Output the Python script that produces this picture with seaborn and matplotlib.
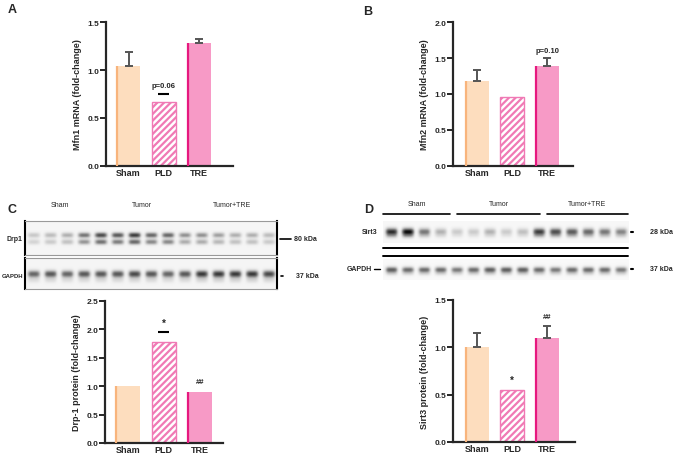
import numpy as np
import pandas as pd
import seaborn as sns
import matplotlib.pyplot as plt

# bar chart data
groups = ["Sham", "PLD", "TRE"]
mfn1_mean = [1.04, 0.67, 1.28]
mfn1_err = [0.15, 0.0, 0.04]
mfn2_mean = [1.18, 0.96, 1.39]
mfn2_err = [0.15, 0.0, 0.11]
drp1_mean = [1.0, 1.77, 0.9]
drp1_err = [0.0, 0.0, 0.0]
sirt3_mean = [1.0, 0.55, 1.1]
sirt3_err = [0.15, 0.0, 0.13]

# blot band intensities per lane (15 lanes: 5 per group)
blot_groups = ["Sham", "Tumor", "Tumor+TRE"]
drp1_lanes = [0.25, 0.3, 0.35, 0.55, 0.7, 0.65, 0.75, 0.6, 0.6, 0.45, 0.45, 0.4, 0.35, 0.35, 0.3]
c_load_lanes = [0.6, 0.65, 0.6, 0.65, 0.65, 0.65, 0.7, 0.65, 0.6, 0.65, 0.75, 0.75, 0.75, 0.75, 0.7]
sirt3_lanes = [0.8, 0.9, 0.55, 0.35, 0.25, 0.25, 0.35, 0.25, 0.3, 0.75, 0.7, 0.65, 0.6, 0.55, 0.5]
d_load_lanes = [0.65, 0.6, 0.6, 0.6, 0.55, 0.6, 0.65, 0.65, 0.65, 0.6, 0.55, 0.6, 0.6, 0.6, 0.55]

sns.set_style("ticks")
plt.rcParams['font.family'] = ['Liberation Sans', 'DejaVu Sans']
plt.rcParams['hatch.linewidth'] = 1.6

W, H = 675, 456
fig = plt.figure(figsize=(6.75, 4.56), dpi=100)


def px_axes(x0, y0, x1, y1):
    return fig.add_axes([x0 / W, 1 - y1 / H, (x1 - x0) / W, (y1 - y0) / H])


fills = ["#FDDDBE", "white", "#F79AC6"]
edges = ["#F8B47C", "#F07AB5", "#E6197F"]


def bar_panel(ax, mean, err, ymax, ylabel, xlim):
    df = pd.DataFrame({"group": groups, "value": mean})
    sns.barplot(data=df, x="group", y="value", hue="group", palette=fills,
                saturation=1, legend=False, width=0.68, ax=ax, errorbar=None)
    for i, p in enumerate(ax.patches):
        p.set_edgecolor(fills[i] if i != 1 else edges[i])
        p.set_linewidth(0 if i != 1 else 1.0)
        if i == 1:
            p.set_hatch("/////")
        else:
            ax.vlines(p.get_x() + 0.02, 0, p.get_height(), color=edges[i], lw=1.6, zorder=3)
    for i, (m, e) in enumerate(zip(mean, err)):
        if e > 0:
            ax.errorbar(i, m, yerr=[[0], [e]], fmt="none", ecolor="#555555",
                        elinewidth=1.4, capsize=3, capthick=1.4, zorder=1)
    ax.set_ylim(0, ymax)
    ax.set_xlim(*xlim)
    ticks = np.arange(0, ymax + 0.01, 0.5)
    ax.set_yticks(ticks)
    ax.set_yticklabels([f"{v:.1f}" for v in ticks], fontsize=6, fontweight="bold")
    ax.set_xticks(range(3))
    ax.set_xticklabels(groups, fontsize=6.5, fontweight="bold")
    ax.set_xlabel("")
    ax.set_ylabel(ylabel, fontsize=6.5, fontweight="bold", labelpad=4)
    ax.tick_params(axis="x", length=0, pad=1.5)
    ax.tick_params(axis="y", length=4, width=1.4, pad=1)
    sns.despine(ax=ax)
    for s in ["left", "bottom"]:
        ax.spines[s].set_linewidth(1.6)


def blot(ax, lanes, doublet=False, bg=0.06, sig=3.5):
    n = len(lanes)
    cols = n * 20
    rows = 30
    xx = np.arange(cols)
    yy = np.arange(rows)[:, None]
    img = np.zeros((rows, cols))
    for i, v in enumerate(lanes):
        cx = i * 20 + 10
        prof_x = np.exp(-((xx - cx) / 7.5) ** 4)
        if doublet:
            prof_y = np.exp(-((yy - 12) / 2.4) ** 2) + 0.8 * np.exp(-((yy - 18) / 2.4) ** 2)
        else:
            prof_y = np.exp(-((yy - 15) / sig) ** 2) + 0.2 * np.exp(-((yy - 21) / 3.0) ** 2)
        img += v * prof_y * prof_x
    img += bg
    ax.imshow(img, cmap="Greys", vmin=0, vmax=1.0, aspect="auto", interpolation="bilinear")
    ax.set_xticks([])
    ax.set_yticks([])


# Panel A
axA = px_axes(106, 23, 233, 167)
bar_panel(axA, mfn1_mean, mfn1_err, 1.5, "Mfn1 mRNA (fold-change)", (-0.64, 2.97))
axA.hlines(0.75, 0.85, 1.15, color="black", lw=1.5)
axA.text(1, 0.8, "p=0.06", ha="center", va="bottom", fontsize=5.5, fontweight="bold")

# Panel B
axB = px_axes(453, 23, 573, 167)
bar_panel(axB, mfn2_mean, mfn2_err, 2.0, "Mfn2 mRNA (fold-change)", (-0.69, 2.74))
axB.text(2, 1.56, "p=0.10", ha="center", va="bottom", fontsize=5.5, fontweight="bold")

# Panel C bars
axC = px_axes(105, 302, 223, 444)
bar_panel(axC, drp1_mean, drp1_err, 2.5, "Drp-1 protein (fold-change)", (-0.64, 2.65))
axC.hlines(1.95, 0.85, 1.15, color="black", lw=1.5)
axC.text(1, 2.02, "*", ha="center", va="bottom", fontsize=7, fontweight="bold")
axC.text(2, 1.02, "##", ha="center", va="bottom", fontsize=5.5, fontweight="bold")

# Panel D bars
axD = px_axes(453, 301, 575, 443)
bar_panel(axD, sirt3_mean, sirt3_err, 1.5, "Sirt3 protein (fold-change)", (-0.69, 2.8))
axD.text(1, 0.6, "*", ha="center", va="bottom", fontsize=7, fontweight="bold")
axD.text(2, 1.29, "##", ha="center", va="bottom", fontsize=5.5, fontweight="bold")

# Panel C blots
bC1 = px_axes(25, 222, 277, 256)
blot(bC1, drp1_lanes, doublet=True, bg=0.08)
bC2 = px_axes(25, 259, 277, 290)
blot(bC2, c_load_lanes, bg=0.08)
for b in (bC1, bC2):
    for s in ["top", "bottom"]:
        b.spines[s].set_color("#999999")
        b.spines[s].set_linewidth(0.8)
    for s in ["left", "right"]:
        b.spines[s].set_color("black")
        b.spines[s].set_linewidth(1.5)

# Panel D blots
bD1 = px_axes(383, 222, 628, 244)
blot(bD1, sirt3_lanes, bg=0.06, sig=5.0)
bD2 = px_axes(383, 260, 628, 281)
blot(bD2, d_load_lanes, bg=0.05, sig=4.5)
for b in (bD1, bD2):
    for s in b.spines.values():
        s.set_visible(False)

# overlay for text and lines in pixel coords
ov = fig.add_axes([0, 0, 1, 1])
ov.set_xlim(0, W)
ov.set_ylim(H, 0)
ov.axis("off")
ov.patch.set_alpha(0)

for letter, x, y in [("A", 8, 10), ("B", 363, 12), ("C", 8, 210), ("D", 364, 210)]:
    ov.text(x, y, letter, fontsize=9, fontweight="bold", ha="left", va="center")

# panel C labels
for g, x in zip(blot_groups, [60, 142, 232]):
    ov.text(x, 206, g, fontsize=5, ha="center", va="center")
ov.text(22, 240, "Drp1", fontsize=5, fontweight="bold", ha="right", va="center")
ov.text(23, 277, "GAPDH", fontsize=4.3, fontweight="bold", ha="right", va="center")
ov.plot([280, 291], [240, 240], color="black", lw=1.2)
ov.text(294, 240, "80 kDa", fontsize=5, fontweight="bold", ha="left", va="center")
ov.plot([281, 283], [277, 277], color="black", lw=1.2)
ov.text(296, 277, "37 kDa", fontsize=5, fontweight="bold", ha="left", va="center")

# panel D labels
for g, (x0, x1) in zip(blot_groups, [(383, 450), (457, 540), (547, 628)]):
    ov.plot([x0, x1], [215, 215], color="black", lw=1.2)
    ov.text((x0 + x1) / 2, 205, g, fontsize=5, ha="center", va="center")
ov.plot([383, 628], [249, 249], color="black", lw=1.4)
ov.plot([383, 628], [257, 257], color="black", lw=1.4)
ov.text(377, 233, "Sirt3", fontsize=5, fontweight="bold", ha="right", va="center")
ov.text(372, 270, "GAPDH", fontsize=5, fontweight="bold", ha="right", va="center")
ov.plot([374, 380], [270, 270], color="black", lw=1.0)
ov.plot([631, 633], [233, 233], color="black", lw=1.5)
ov.plot([631, 633], [270, 270], color="black", lw=1.5)
ov.text(650, 233, "28 kDa", fontsize=5, fontweight="bold", ha="left", va="center")
ov.text(650, 270, "37 kDa", fontsize=5, fontweight="bold", ha="left", va="center")

plt.savefig("out.png", dpi=100)
